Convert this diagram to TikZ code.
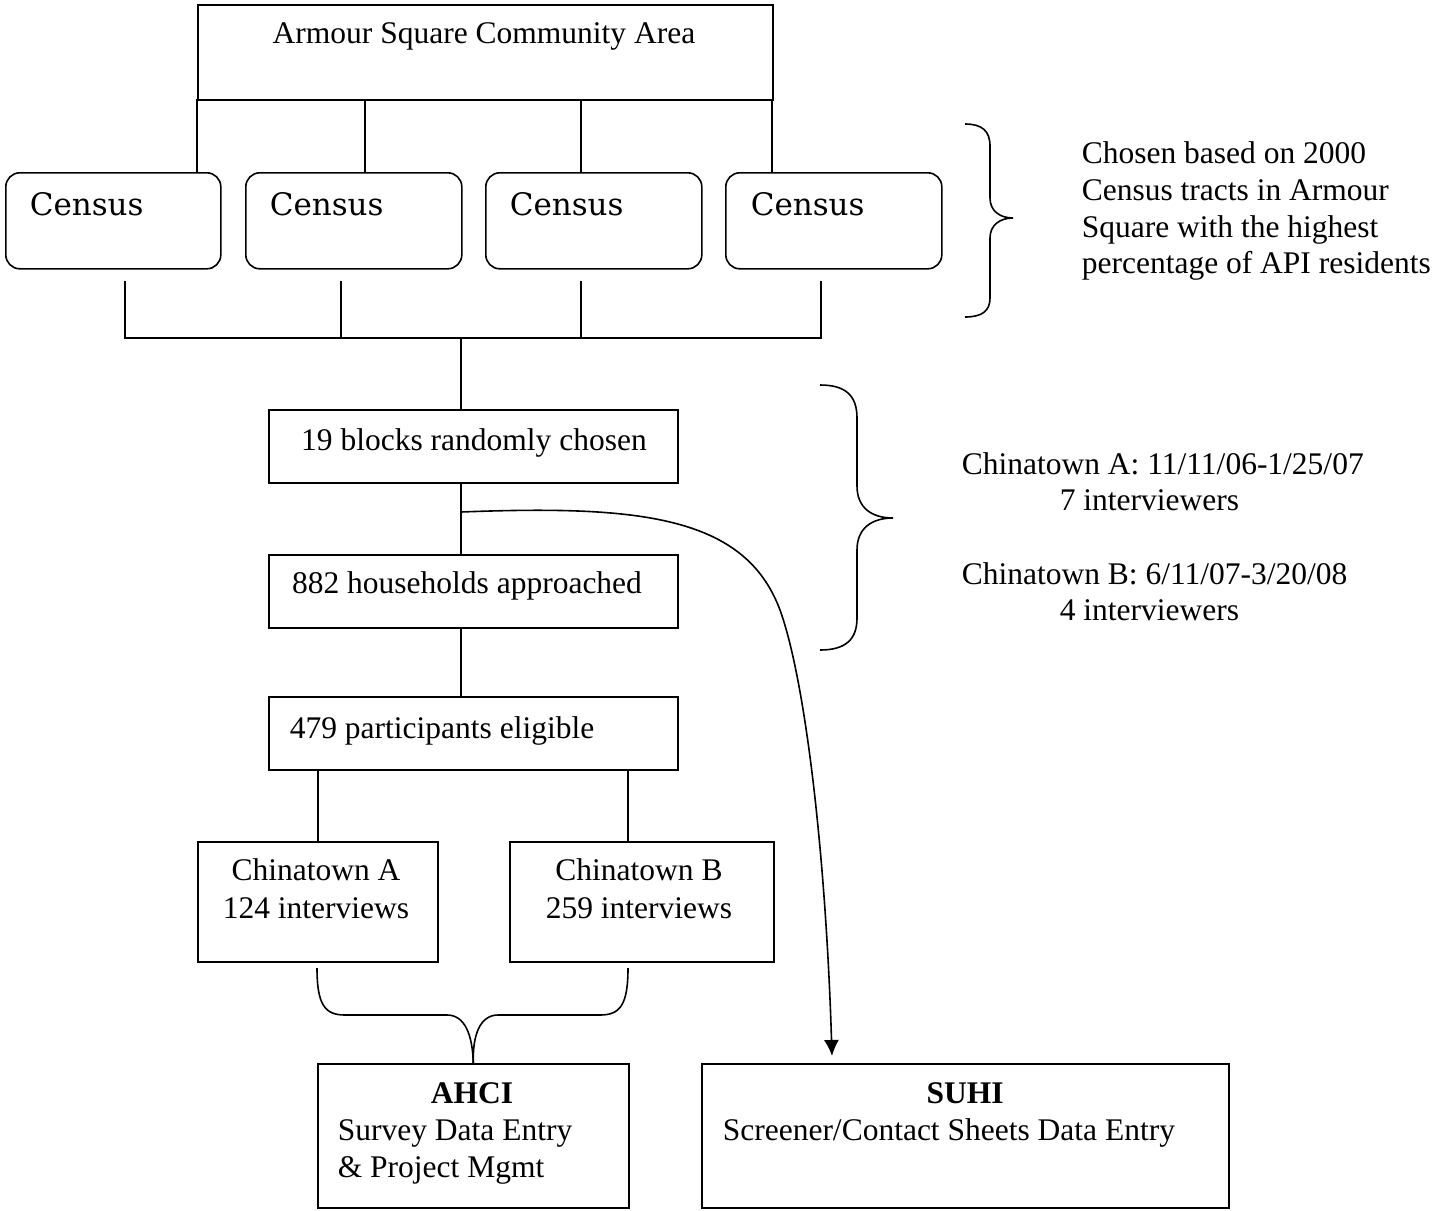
\documentclass[tikz,border=0pt]{standalone}
\usepackage{fontspec}
\newfontfamily\tnr{Liberation Serif}
\newfontfamily\cen{DejaVu Serif}
\usetikzlibrary{arrows.meta,calc}
\begin{document}
\begin{tikzpicture}[x=1pt,y=-1pt,line width=1.6pt,
  box/.style={draw,inner sep=0pt,anchor=north west},
  rbox/.style={box,rounded corners=14pt},
  txt/.style={font=\tnr\fontsize{31.5}{37}\selectfont,inner sep=0pt,anchor=base},
  txtl/.style={txt,anchor=base west},
  btxt/.style={font=\tnr\bfseries\fontsize{31.5}{37}\selectfont,inner sep=0pt,anchor=base},
  ctxt/.style={font=\cen\fontsize{31}{37}\selectfont,inner sep=0pt,anchor=base west}]
\useasboundingbox (0,0) rectangle (1434,1210);

% boxes
\node[box,minimum width=575pt,minimum height=95pt] (top) at (197,4) {};
\node[rbox,minimum width=215pt,minimum height=96pt] (c1) at (5,172) {};
\node[rbox,minimum width=216pt,minimum height=96pt] (c2) at (245,172) {};
\node[rbox,minimum width=216pt,minimum height=96pt] (c3) at (485,172) {};
\node[rbox,minimum width=216pt,minimum height=96pt] (c4) at (725,172) {};
\node[box,minimum width=409pt,minimum height=73pt] (b19) at (268,409) {};
\node[box,minimum width=409pt,minimum height=73pt] (b882) at (268,554) {};
\node[box,minimum width=409pt,minimum height=73pt] (b479) at (268,696) {};
\node[box,minimum width=240pt,minimum height=120pt] (ctA) at (197,841) {};
\node[box,minimum width=264pt,minimum height=120pt] (ctB) at (509,841) {};
\node[box,minimum width=311pt,minimum height=144pt] (ahci) at (317,1063) {};
\node[box,minimum width=527pt,minimum height=144pt] (suhi) at (701,1063) {};

% texts
\node[txt] (ttop) at (484,43) {Armour Square Community Area};
\node[ctxt] (tc1) at (29,215) {Census};
\node[ctxt] (tc2) at (269,215) {Census};
\node[ctxt] (tc3) at (509,215) {Census};
\node[ctxt] (tc4) at (750,215) {Census};
\node[txt] (t19) at (474,450) {19 blocks randomly chosen};
\node[txt] (t882) at (467,593) {882 households approached};
\node[txtl] (t479) at (289,738) {479 participants eligible};
\node[txt] (tA1) at (316,880) {Chinatown A};
\node[txt] (tA2) at (316,918) {124 interviews};
\node[txt] (tB1) at (639,880) {Chinatown B};
\node[txt] (tB2) at (639,918) {259 interviews};
\node[btxt] (tah) at (472,1103) {AHCI};
\node[txtl] (tah2) at (337,1140) {Survey Data Entry};
\node[txtl] (tah3) at (337,1177) {\& Project Mgmt};
\node[btxt] (tsu) at (965,1103) {SUHI};
\node[txtl] (tsu2) at (722,1140) {Screener/Contact Sheets Data Entry};
\node[txtl] (r1) at (1081,163) {Chosen based on 2000};
\node[txtl] (r2) at (1081,200) {Census tracts in Armour};
\node[txtl] (r3) at (1081,237) {Square with the highest};
\node[txtl] (r4) at (1081,273) {percentage of API residents};
\node[txtl] (s1) at (961,474) {Chinatown A: 11/11/06-1/25/07};
\node[txtl] (s2) at (1059,510) {7 interviewers};
\node[txtl] (s3) at (961,584) {Chinatown B: 6/11/07-3/20/08};
\node[txtl] (s4) at (1059,620) {4 interviewers};

% connectors top -> census
\coordinate (t1) at (197,99);
\coordinate (t2) at (365,99);
\coordinate (t3) at (581,99);
\coordinate (t4) at (772,99);
\draw (t1) -- (t1 |- c1.north);
\draw (t2) -- (t2 |- c2.north);
\draw (t3) -- (t3 |- c3.north);
\draw (t4) -- (t4 |- c4.north);

% census -> bracket
\coordinate (j1) at (125,281);
\coordinate (j2) at (341,281);
\coordinate (j3) at (581,281);
\coordinate (j4) at (821,281);
\coordinate (hub) at (461,338);
\draw (j1) |- (hub) -| (j4);
\draw (j2) -- (j2 |- hub);
\draw (j3) -- (j3 |- hub);
\draw (hub) -- (hub |- b19.north);
\draw (b19.south -| hub) -- (b882.north -| hub);
\draw (b882.south -| hub) -- (b479.north -| hub);

% 479 -> Chinatown
\coordinate (pB) at (628,769);
\draw (b479.south -| ctA.north) -- (ctA.north);
\draw (pB) -- (pB |- ctB.north);

% merge into AHCI
\coordinate (mA) at (317,968);
\coordinate (mB) at (628,968);
\draw (mA) .. controls (317,1005) and (325,1015) .. (345,1015) -- (447,1015)
      .. controls (465,1015) and (472.5,1035) .. (ahci.north);
\draw (mB) .. controls (628,1005) and (620,1015) .. (600,1015) -- (498,1015)
      .. controls (480,1015) and (472.5,1035) .. (ahci.north);

% curved arrow to SUHI
\coordinate (sp) at (461,512);
\coordinate (ae) at (832,1056);
\draw[-{Latex[length=16pt,width=15pt]}] (sp) .. controls (640,505) and (745,516) .. (780,610)
      .. controls (806,682) and (826,860) .. (ae);

% braces
\draw (965,124) .. controls (982,124) and (990,131) .. (990,146) -- (990,198)
      .. controls (990,211) and (1000,218) .. (1013,218)
      .. controls (1000,218) and (990,225) .. (990,238) -- (990,298)
      .. controls (990,311) and (982,317) .. (965,317);
\draw (820,385) .. controls (845,385) and (857,395) .. (857,418) -- (857,486)
      .. controls (857,508) and (872,518) .. (893,518)
      .. controls (872,518) and (857,528) .. (857,550) -- (857,618)
      .. controls (857,640) and (845,650) .. (820,650);
\end{tikzpicture}
\end{document}
